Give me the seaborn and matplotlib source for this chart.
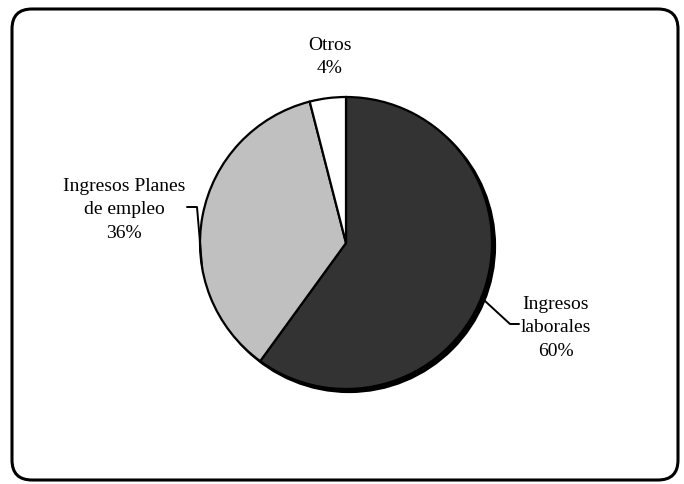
import numpy as np
import matplotlib
matplotlib.use("Agg")
import matplotlib.pyplot as plt
from matplotlib.patches import FancyBboxPatch
import seaborn as sns

# datos
categorias = ["Ingresos\nlaborales", "Ingresos Planes\nde empleo", "Otros"]
porcentajes = [60, 36, 4]
colores = ["#333333", "#c0c0c0", "#ffffff"]

sns.set_theme(style="white")
plt.rcParams["font.family"] = ["Liberation Serif", "DejaVu Serif"]

W, H = 684, 485
fig = plt.figure(figsize=(W / 100, H / 100), dpi=100)
ax = fig.add_axes([0, 0, 1, 1])

# marco redondeado
marco = FancyBboxPatch((12, 10), 666, 471, boxstyle="round,pad=0,rounding_size=20",
                       fc="white", ec="black", lw=2.2, zorder=0)
ax.add_patch(marco)

cx, cy, r = 346, 244, 146
wedges, _ = ax.pie(
    porcentajes,
    colors=colores,
    startangle=-90,
    counterclock=True,
    center=(cx, cy),
    radius=r,
    wedgeprops=dict(edgecolor="black", linewidth=1.6),
    frame=True,
)
ax.set_xlim(0, W)
ax.set_ylim(H, 0)
ax.set_aspect("equal")
ax.axis("off")

# sombra del pastel
sombra = plt.Circle((cx + 3, cy + 3), r, fc="black", ec="black", lw=1.6, zorder=0.5)
ax.add_patch(sombra)
for w in wedges:
    w.set_zorder(1)

# etiquetas
pos_etiquetas = [(556, 328), (124, 210), (330, 57)]
for cat, p, (tx, ty) in zip(categorias, porcentajes, pos_etiquetas):
    ax.text(tx, ty, f"{cat}\n{p}%", ha="center", va="center", fontsize=14,
            linespacing=1.5, color="black", zorder=3)

# lineas guia
ang_lab = np.deg2rad(-22)
ax.plot([cx + r * np.cos(ang_lab), 510, 519],
        [cy - r * np.sin(ang_lab), 325, 325], color="black", lw=1.4, zorder=3)
ang_pla = np.deg2rad(190)
ax.plot([cx + r * np.cos(ang_pla), 197, 187],
        [cy - r * np.sin(ang_pla), 208, 208], color="black", lw=1.4, zorder=3)

fig.savefig("out.png", dpi=100)
